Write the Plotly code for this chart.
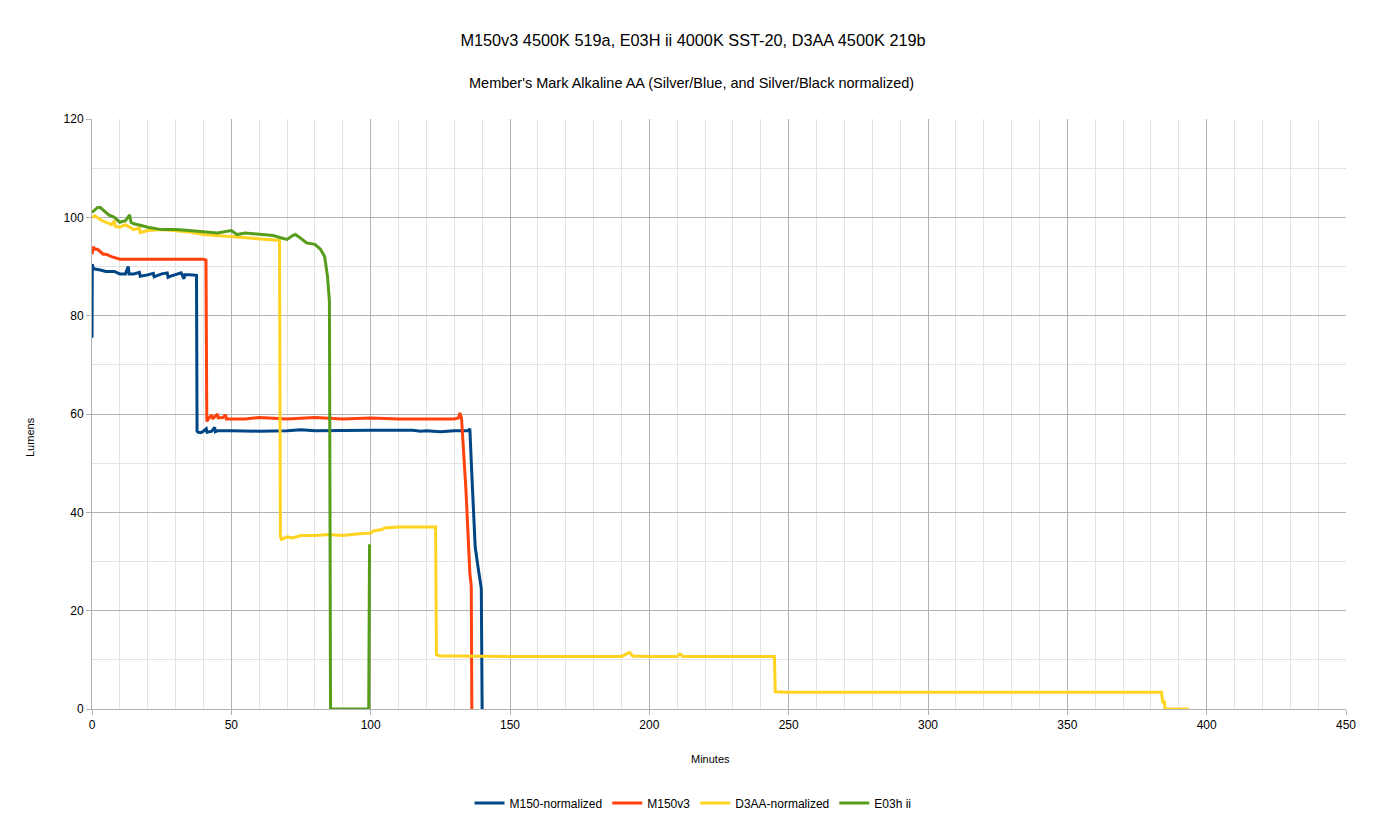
import plotly.graph_objects as go

# M150-normalized
m150n_min = [0, 0.1, 0.5, 1, 3, 5, 8, 10, 12, 13, 13.3, 15, 17, 17.3, 20, 22, 22.3, 25, 27,
             27.3, 28, 30, 32, 33, 33.3, 35, 37.5, 37.7, 38, 39, 40, 41, 41.3, 43, 44, 44.3,
             45, 50, 60, 70, 75, 80, 90, 100, 110, 115, 118, 120, 125, 130, 135, 135.6,
             136.2, 137.0, 137.5, 138.5, 139.2, 139.7, 140]
m150n_lm = [75.5, 90.5, 89.5, 89.5, 89.3, 89, 89, 88.5, 88.5, 90, 88.5, 88.5, 88.8, 88, 88.3,
            88.6, 87.9, 88.5, 88.7, 87.8, 88, 88.3, 88.7, 87.5, 88.3, 88.3, 88.2, 56.5, 56.3,
            56.2, 56.5, 57, 56.3, 56.5, 57.3, 56.4, 56.6, 56.6, 56.5, 56.6, 56.8, 56.6, 56.7,
            56.7, 56.7, 56.7, 56.5, 56.6, 56.4, 56.6, 56.6, 57, 49, 40, 33, 29, 26, 24.5, 0]

# M150v3
m150_min = [0, 0.5, 1, 2, 3, 4, 5, 7, 10, 15, 20, 30, 40, 40.9, 41.2, 42, 43, 43.3, 45, 45.3,
            47, 48, 48.2, 50, 55, 60, 70, 80, 90, 100, 110, 120, 125, 130, 131.5, 132, 132.6,
            134.2, 135.6, 136.1, 136.3]
m150_lm = [92.5, 94, 93.5, 93.5, 93, 92.5, 92.5, 92, 91.5, 91.5, 91.5, 91.5, 91.5, 91.3, 58.5,
           59.2, 59.8, 59.0, 60.0, 59.2, 59.3, 59.8, 59, 59, 59, 59.3, 59, 59.3, 59, 59.2, 59,
           59, 59, 59, 59.2, 60.2, 59.2, 44.5, 27.6, 25, 0]

# D3AA-normalized
d3aa_min = [0, 1, 3, 5, 7, 8, 8.3, 10, 12, 15, 17, 17.3, 20, 25, 30, 35, 40, 45, 50, 55, 60,
            65, 67.3, 67.6, 68, 70, 72, 75, 80, 85, 90, 95, 100, 101, 104, 105, 110, 115, 120,
            123.3, 123.6, 125, 130, 150, 190, 193, 194, 200, 210, 211, 212, 240, 244.9, 245.2,
            250, 300, 350, 380, 383.8, 384.2, 384.8, 385, 385.4, 393.5]
d3aa_lm = [100, 100.3, 99.5, 99, 98.5, 99.3, 98.2, 98, 98.5, 97.5, 97.8, 96.9, 97.3, 97.5,
           97.2, 97, 96.5, 96.3, 96, 95.8, 95.7, 95.5, 95.3, 35.2, 34.5, 35, 34.8, 35.3, 35.3,
           35.5, 35.3, 35.6, 35.8, 36.2, 36.5, 36.8, 37, 37, 37, 37, 11, 10.8, 10.8, 10.7,
           10.7, 11.5, 10.8, 10.7, 10.7, 11.2, 10.7, 10.7, 10.7, 3.5, 3.4, 3.4, 3.4, 3.4, 3.4,
           1.5, 1.5, 0.2, 0, 0]

# E03h ii
e03_min = [0, 1, 2, 3, 4, 5, 6, 8, 10, 12, 13.5, 14, 15, 18, 20, 25, 30, 35, 40, 45, 50, 52,
           55, 60, 65, 68, 70, 72, 73, 75, 77, 80, 82, 83.5, 84.5, 85.2, 85.4, 85.6, 99.3, 99.6]
e03_lm = [101, 101.5, 102, 102, 101.5, 101, 100.5, 100, 99, 99.3, 100.5, 99, 98.7, 98.3, 98,
          97.5, 97.5, 97.3, 97, 96.8, 97.3, 96.5, 96.8, 96.5, 96.3, 95.8, 95.5, 96.3, 96.5,
          95.7, 94.8, 94.5, 93.5, 92, 88, 83, 0, 0, 0, 33.5]

series = [
    ("M150-normalized", m150n_min, m150n_lm, "#004586"),
    ("M150v3", m150_min, m150_lm, "#ff420e"),
    ("D3AA-normalized", d3aa_min, d3aa_lm, "#ffd320"),
    ("E03h ii", e03_min, e03_lm, "#579d1c"),
]

fig = go.Figure()
for name, xs, ys, col in series:
    fig.add_trace(go.Scatter(x=xs, y=ys, name=name, mode="lines",
                             line=dict(color=col, width=3)))

font = "Liberation Sans, Arial, sans-serif"

fig.update_layout(
    width=1386, height=819,
    paper_bgcolor="white", plot_bgcolor="white",
    margin=dict(l=92, r=40, t=119, b=110),
    font=dict(family=font, color="#000000", size=12),
    title=dict(text="M150v3 4500K 519a, E03H ii 4000K SST-20, D3AA 4500K 219b",
               x=0.5, xanchor="center", y=1 - 40 / 819, yanchor="middle",
               font=dict(size=16.3)),
    showlegend=True,
    legend=dict(orientation="h", xref="container", yref="container",
                x=0.5, xanchor="center", y=1 - 803 / 819, yanchor="middle",
                font=dict(size=12), itemwidth=30),
    xaxis=dict(range=[0, 450], dtick=50, tick0=0,
               showgrid=True, gridcolor="#b3b3b3", gridwidth=1,
               showline=True, linecolor="#b3b3b3", linewidth=1,
               ticks="outside", ticklen=5, tickcolor="#b3b3b3",
               tickfont=dict(size=12), zeroline=False,
               minor=dict(dtick=10, showgrid=True, gridcolor="#e3e3e3")),
    yaxis=dict(range=[0, 120], dtick=20, tick0=0,
               showgrid=True, gridcolor="#b3b3b3", gridwidth=1,
               showline=True, linecolor="#b3b3b3", linewidth=1,
               ticks="outside", ticklen=5, tickcolor="#b3b3b3",
               tickfont=dict(size=12), zeroline=False,
               minor=dict(dtick=10, showgrid=True, gridcolor="#e3e3e3")),
    annotations=[
        dict(text="Member's Mark Alkaline AA (Silver/Blue, and Silver/Black normalized)",
             xref="paper", yref="paper", x=(691 - 92) / 1254, y=(709 - 83) / 590,
             xanchor="center", yanchor="middle", showarrow=False, font=dict(size=14.5)),
        dict(text="Minutes", xref="paper", yref="paper",
             x=(710 - 92) / 1254, y=(709 - 759) / 590,
             xanchor="center", yanchor="middle", showarrow=False, font=dict(size=11)),
        dict(text="Lumens", xref="paper", yref="paper",
             x=(30 - 92) / 1254, y=(709 - 437) / 590, textangle=-90,
             xanchor="center", yanchor="middle", showarrow=False, font=dict(size=11)),
    ],
)

# drop the browser's default 8px body margin so the figure sits at the page corner
fig.write_html("out.html", config={"displayModeBar": False},
               post_script="document.body.style.margin='0';")
